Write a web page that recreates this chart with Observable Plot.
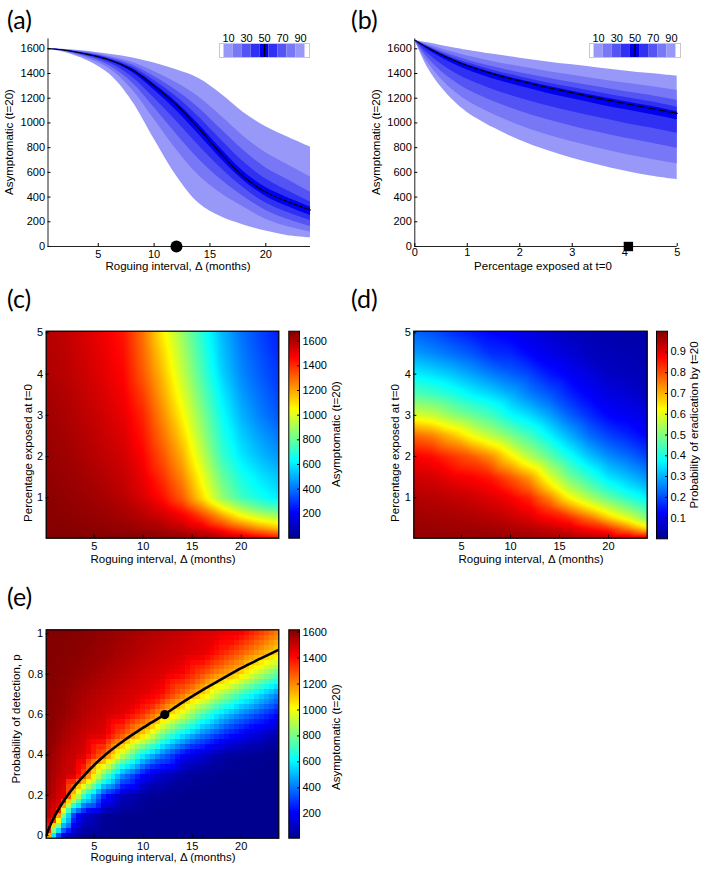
<!DOCTYPE html>
<html><head><meta charset="utf-8">
<script src="https://cdn.jsdelivr.net/npm/d3@7"></script>
<script src="https://cdn.jsdelivr.net/npm/@observablehq/plot@0.6"></script>
<style>
html,body{margin:0;padding:0;background:#fff;}
#fig{position:relative;width:705px;height:869px;overflow:hidden;font-family:"Liberation Sans",Arial,sans-serif;color:#000;background:#fff;}
#fig svg{position:absolute;left:0;top:0;}
.lbl{position:absolute;white-space:nowrap;line-height:1;font-family:"Liberation Sans",Arial,sans-serif;}
.letter{position:absolute;font-family:Lato,"Open Sans",sans-serif;font-size:25px;line-height:1;}
</style></head><body><div id="fig"></div><script>
// ---------- data ----------
// (a) quantiles of asymptomatic hosts vs roguing interval
const aX   = [0.5, 2, 4, 6, 8, 10, 12, 14, 16, 18, 20, 22, 24];
const aP05 = [1598, 1570, 1505, 1395, 1180, 870, 570, 350, 240, 175, 125, 88, 70];
const aP15 = [1599, 1577, 1524, 1438, 1273, 1029, 783, 574, 429, 319, 220, 159, 116];
const aP25 = [1599, 1581, 1535, 1463, 1329, 1124, 909, 707, 541, 405, 292, 219, 162];
const aP35 = [1600, 1584, 1544, 1484, 1374, 1201, 1013, 816, 633, 475, 352, 273, 210];
const aP45 = [1600, 1587, 1551, 1501, 1412, 1266, 1099, 907, 709, 534, 405, 322, 251];
const aP50 = [1600, 1588, 1555, 1510, 1432, 1300, 1145, 955, 750, 565, 440, 360, 295];
const aP55 = [1600, 1589, 1557, 1514, 1440, 1315, 1168, 987, 789, 607, 477, 392, 318];
const aP65 = [1600, 1590, 1561, 1520, 1454, 1343, 1211, 1048, 862, 685, 546, 449, 359];
const aP75 = [1601, 1591, 1565, 1528, 1471, 1376, 1262, 1121, 949, 778, 636, 539, 440];
const aP85 = [1601, 1592, 1571, 1538, 1492, 1417, 1325, 1210, 1056, 893, 758, 659, 561];
const aP95 = [1602, 1595, 1580, 1555, 1528, 1485, 1430, 1360, 1235, 1085, 970, 885, 805];
const aMarkX = 12;
// (b) quantiles vs percentage exposed
const bX   = [0, 0.25, 0.5, 0.75, 1, 1.5, 2, 2.5, 3, 3.5, 4, 4.5, 5];
const bP05 = [1670, 1445, 1290, 1175, 1085, 960, 860, 780, 715, 660, 610, 570, 540];
const bP15 = [1670, 1486, 1356, 1257, 1180, 1069, 980, 907, 847, 795, 747, 707, 670];
const bP25 = [1670, 1525, 1419, 1337, 1270, 1173, 1095, 1029, 974, 924, 878, 838, 795];
const bP35 = [1670, 1561, 1477, 1409, 1353, 1269, 1200, 1141, 1090, 1043, 998, 958, 915];
const bP45 = [1670, 1593, 1529, 1475, 1429, 1356, 1296, 1243, 1195, 1150, 1108, 1068, 1025];
const bP50 = [1670, 1608, 1553, 1505, 1463, 1395, 1339, 1289, 1243, 1199, 1157, 1117, 1077];
const bP55 = [1670, 1610, 1557, 1511, 1471, 1405, 1350, 1301, 1257, 1214, 1173, 1134, 1090];
const bP65 = [1670, 1616, 1567, 1524, 1487, 1425, 1374, 1328, 1286, 1246, 1207, 1171, 1128];
const bP75 = [1670, 1623, 1580, 1543, 1510, 1454, 1407, 1366, 1327, 1290, 1255, 1221, 1182];
const bP85 = [1670, 1633, 1600, 1569, 1542, 1496, 1456, 1419, 1386, 1354, 1323, 1295, 1263];
const bP95 = [1670, 1648, 1627, 1607, 1589, 1555, 1524, 1496, 1470, 1445, 1421, 1399, 1378];
const bMarkX = 4.07;
// legend of the fan charts
const legLo = [5, 15, 25, 35, 45, 55, 65, 75, 85];
const legHi = [15, 25, 35, 45, 55, 65, 75, 85, 95];
const legShade = [0, 1, 2, 3, 4, 3, 2, 1, 0];
const legTicks = [10, 30, 50, 70, 90];
// (c) asymptomatic grid, (d) eradication probability grid: columns = gridX, rows = gridY
const gridX = [0.1, 2, 4, 6, 8, 10, 12, 14, 16, 18, 20, 22, 23.95];
const gridY = [0.02, 0.25, 0.5, 0.75, 1, 1.25, 1.5, 2, 2.5, 3, 3.5, 4, 4.5, 5.04];
const cRows = [
  [1678,1676,1674,1672,1670,1670,1668,1660,1640,1600,1560,1500,1440],
  [1672,1668,1662,1655,1645,1630,1610,1575,1520,1430,1330,1230,1160],
  [1668,1662,1652,1640,1622,1596,1560,1500,1400,1250,1100,1000,940],
  [1664,1656,1644,1628,1605,1565,1505,1410,1250,1060,900,800,740],
  [1660,1650,1635,1615,1585,1530,1450,1320,1110,880,740,660,600],
  [1656,1645,1628,1605,1572,1510,1420,1280,1065,845,700,620,565],
  [1652,1640,1620,1595,1565,1500,1390,1245,1035,805,670,592,535],
  [1645,1630,1605,1575,1545,1470,1335,1180,960,730,600,520,460],
  [1637,1620,1593,1560,1525,1440,1285,1120,900,690,555,470,405],
  [1628,1610,1580,1545,1505,1410,1240,1060,850,650,510,420,350],
  [1620,1600,1568,1530,1485,1370,1195,1005,800,610,475,390,320],
  [1605,1588,1555,1515,1465,1325,1155,955,750,565,440,360,295],
  [1600,1582,1545,1503,1450,1300,1115,920,720,540,420,340,270],
  [1595,1575,1535,1490,1435,1280,1070,880,690,520,400,320,250]
];
const dRows = [
  [0.98,0.98,0.98,0.98,0.98,0.975,0.97,0.965,0.96,0.95,0.93,0.92,0.90],
  [0.975,0.975,0.97,0.97,0.965,0.955,0.945,0.93,0.91,0.87,0.83,0.75,0.66],
  [0.97,0.965,0.96,0.955,0.945,0.93,0.91,0.875,0.84,0.77,0.68,0.60,0.50],
  [0.96,0.955,0.95,0.94,0.925,0.905,0.875,0.815,0.73,0.65,0.57,0.50,0.43],
  [0.95,0.945,0.935,0.925,0.905,0.88,0.84,0.745,0.63,0.545,0.475,0.415,0.365],
  [0.935,0.93,0.915,0.90,0.88,0.835,0.775,0.66,0.55,0.475,0.405,0.355,0.315],
  [0.92,0.915,0.89,0.875,0.85,0.79,0.72,0.595,0.49,0.42,0.35,0.31,0.27],
  [0.88,0.865,0.825,0.79,0.735,0.64,0.55,0.47,0.39,0.32,0.265,0.23,0.19],
  [0.775,0.75,0.69,0.62,0.56,0.50,0.44,0.37,0.30,0.235,0.19,0.16,0.125],
  [0.59,0.57,0.52,0.48,0.44,0.38,0.34,0.285,0.22,0.17,0.125,0.11,0.095],
  [0.46,0.44,0.41,0.37,0.34,0.30,0.25,0.21,0.16,0.12,0.095,0.08,0.055],
  [0.365,0.345,0.32,0.285,0.25,0.22,0.19,0.145,0.115,0.09,0.06,0.05,0.045],
  [0.28,0.26,0.235,0.21,0.17,0.16,0.125,0.10,0.08,0.055,0.045,0.04,0.035],
  [0.22,0.20,0.17,0.145,0.125,0.11,0.09,0.07,0.05,0.04,0.035,0.03,0.03]
];
// (e) asymptomatic vs roguing interval and detection probability
const eX = [0.1, 1, 2, 3, 4, 6, 8, 10, 12, 14, 16, 18, 20, 22, 23.84];
const eY = [-0.013, 0.1, 0.2, 0.3, 0.4, 0.5, 0.6, 0.7, 0.8, 0.9, 1.02];
const eRows = [
  [1300,300,30,10,10,10,10,10,10,10,10,10,10,10,10],
  [1540,1450,730,270,120,30,15,12,10,10,10,10,10,10,10],
  [1570,1520,1450,1050,680,250,90,40,20,12,10,10,10,10,10],
  [1590,1540,1500,1480,1300,780,420,210,110,50,25,15,12,10,10],
  [1600,1560,1520,1500,1475,1260,915,605,390,210,130,60,30,20,15],
  [1605,1590,1550,1525,1500,1465,1290,1080,800,590,410,290,195,130,60],
  [1608,1600,1580,1555,1530,1495,1460,1340,1150,960,735,560,420,315,210],
  [1610,1605,1590,1570,1550,1520,1490,1465,1400,1245,1085,890,715,560,420],
  [1612,1610,1600,1590,1580,1550,1525,1495,1470,1420,1305,1190,1080,900,760],
  [1615,1613,1608,1602,1595,1575,1550,1525,1500,1478,1455,1360,1260,1150,1050],
  [1615,1615,1612,1608,1605,1590,1570,1550,1530,1505,1480,1460,1440,1340,1230]
];
const eCurveX = [0.1, 0.5, 1, 2, 3, 4, 5, 6, 8, 10, 12, 14, 16, 18, 20, 22, 24];
const eCurveP = [0, 0.05, 0.10, 0.18, 0.245, 0.30, 0.35, 0.395, 0.47, 0.535, 0.595, 0.66, 0.72, 0.775, 0.83, 0.878, 0.925];
const eDotX = 12.2, eDotP = 0.6;
// ticks
const aXTicks = [5, 10, 15, 20];
const yTicks16 = [0, 200, 400, 600, 800, 1000, 1200, 1400, 1600];
const bXTicks = [0, 1, 2, 3, 4, 5];
const heatXTicks = [5, 10, 15, 20];
const heatYTicks = [1, 2, 3, 4, 5];
const eYTicks = [0, 0.2, 0.4, 0.6, 0.8, 1];
const asymBarTicks = [200, 400, 600, 800, 1000, 1200, 1400, 1600];
const probBarTicks = [0.1, 0.2, 0.3, 0.4, 0.5, 0.6, 0.7, 0.8, 0.9];
const cDomain = [2, 1681], dDomain = [0, 1], eDomain = [12, 1618];

// ---------- styling ----------
const bandColors = ["#9898f8", "#7878f6", "#5454f4", "#3030f2", "#0000ee"];
const jetStops = [0, 0.125, 0.375, 0.625, 0.875, 1];
const jetColors = ["#00008f", "#0000ff", "#00ffff", "#ffff00", "#ff0000", "#800000"];
function jet([lo, hi]) { return {type: "linear", domain: jetStops.map(t => lo + t * (hi - lo)), range: jetColors, interpolate: "rgb", clamp: true}; }
const W = 705, H = 869;
const fig = document.getElementById("fig");
const base = {width: W, height: H, style: {background: "transparent", fontFamily: "'Liberation Sans', Arial, sans-serif", fontSize: "11px", color: "#000", overflow: "visible"}};
function box(l, r, t, b) { return {marginLeft: l, marginRight: W - r, marginTop: t, marginBottom: H - b}; }
function place(svg) { svg.style.position = "absolute"; svg.style.left = "0px"; svg.style.top = "0px"; fig.appendChild(svg); }
function text(str, x, y, rot, size) {
  const d = document.createElement("div"); d.className = "lbl"; d.textContent = str;
  d.style.left = x + "px"; d.style.top = y + "px"; d.style.fontSize = (size || 11.5) + "px";
  d.style.transform = "translate(-50%,-50%)" + (rot ? " rotate(-90deg)" : "");
  fig.appendChild(d);
}
function letter(str, x, y) { const d = document.createElement("div"); d.className = "letter"; d.textContent = str; d.style.left = x + "px"; d.style.top = y + "px"; fig.appendChild(d); }
const fmt = d3.format("~g");

function rowsOf(X, P) { return X.map((x, i) => ({x, p05: P[0][i], p15: P[1][i], p25: P[2][i], p35: P[3][i], p45: P[4][i], p50: P[5][i], p55: P[6][i], p65: P[7][i], p75: P[8][i], p85: P[9][i], p95: P[10][i]})); }
function fan(rows) {
  return [["p05","p95"],["p15","p85"],["p25","p75"],["p35","p65"],["p45","p55"]]
    .map(([lo, hi], k) => Plot.areaY(rows, {x: "x", y1: lo, y2: hi, fill: bandColors[k], curve: "catmull-rom"}))
    .concat([Plot.lineY(rows, {x: "x", y: "p50", stroke: "#000", strokeWidth: 1.1, curve: "catmull-rom"})]);
}
const aRows = rowsOf(aX, [aP05, aP15, aP25, aP35, aP45, aP50, aP55, aP65, aP75, aP85, aP95]);
const bRows = rowsOf(bX, [bP05, bP15, bP25, bP35, bP45, bP50, bP55, bP65, bP75, bP85, bP95]);
const legRows = legLo.map((lo, i) => ({lo, hi: legHi[i], shade: legShade[i]}));

// (a)
place(Plot.plot({...base, ...box(47.5, 310, 38.4, 246), x: {domain: [0.5, 24]}, y: {domain: [0, 1680]},
  marks: [...fan(aRows),
    Plot.ruleY([0], {stroke: "#222"}), Plot.ruleX([0.5], {stroke: "#222"}),
    Plot.axisX({ticks: aXTicks, tickSize: -3, tickPadding: 7, tickFormat: fmt, label: null}),
    Plot.axisY({ticks: yTicks16, tickSize: -3, tickPadding: 6, tickFormat: fmt, label: null}),
    Plot.dot([{x: aMarkX, y: 0}], {x: "x", y: "y", r: 6, fill: "#000"})]}));
// (b)
place(Plot.plot({...base, ...box(414.3, 676.7, 38.4, 246), x: {domain: [0, 5]}, y: {domain: [0, 1680]},
  marks: [...fan(bRows),
    Plot.ruleY([0], {stroke: "#222"}), Plot.ruleX([0], {stroke: "#222"}),
    Plot.axisX({ticks: bXTicks, tickSize: -3, tickPadding: 5, tickFormat: fmt, label: null}),
    Plot.axisY({ticks: yTicks16, tickSize: -3, tickPadding: 6, tickFormat: fmt, label: null}),
    Plot.dot([{x: bMarkX, y: 0}], {x: "x", y: "y", r: 5.3, symbol: "square", fill: "#000"})]}));
// legends
for (const [l, r] of [[219, 309], [589, 680]]) {
  place(Plot.plot({...base, ...box(l, r, 43, 57), x: {domain: [0, 100]}, y: {domain: [0, 1], axis: null},
    marks: [Plot.rect(legRows, {x1: "lo", x2: "hi", y1: 0, y2: 1, fill: d => bandColors[d.shade]}),
      Plot.ruleX([50], {stroke: "#000", strokeWidth: 1.2}),
      Plot.frame({stroke: "#c8c8c8"}),
      Plot.axisX({anchor: "top", ticks: legTicks, tickSize: 0, tickPadding: 2, label: null})]}));
}
// heatmaps
function gridPts(X, Y, R) { return Y.flatMap((y, j) => X.map((x, i) => ({x, y, v: R[j][i]}))); }
function heat(l, r, t, b, xd, yd, pts, cd, yTicks, ps, extra) {
  place(Plot.plot({...base, ...box(l, r, t, b), x: {domain: xd}, y: {domain: yd}, color: jet(cd),
    marks: [Plot.raster(pts, {x: "x", y: "y", fill: "v", interpolate: "barycentric", x1: xd[0], x2: xd[1], y1: yd[0], y2: yd[1], pixelSize: ps, imageRendering: ps > 2 ? "pixelated" : "auto"}),
      ...(extra || []),
      Plot.frame({stroke: "#000", strokeWidth: 1.3}),
      Plot.axisX({ticks: heatXTicks, tickSize: -3, tickPadding: 7, tickFormat: fmt, label: null}),
      Plot.axisY({ticks: yTicks, tickSize: -3, tickPadding: 6, tickFormat: fmt, label: null})]}));
}
function colorbar(l, r, t, b, cd, ticks) {
  place(Plot.plot({...base, ...box(l, r, t, b), x: {domain: [0, 1], axis: null}, y: {domain: cd}, color: jet(cd),
    marks: [Plot.raster({x1: 0, x2: 1, y1: cd[0], y2: cd[1], fill: (x, y) => y, pixelSize: 1}),
      Plot.frame({stroke: "#000"}),
      Plot.axisY({anchor: "right", ticks, tickSize: -3, tickPadding: 6, tickFormat: fmt, label: null})]}));
}
heat(45.7, 278.3, 330.7, 537.7, [0.1, 23.84], [0.02, 5.04], gridPts(gridX, gridY, cRows), cDomain, heatYTicks, 2);
colorbar(288.3, 299, 330.7, 537.7, cDomain, asymBarTicks);
heat(413.3, 646.7, 330.7, 537.7, [0.13, 23.95], [0.02, 5.04], gridPts(gridX, gridY, dRows), dDomain, heatYTicks, 2);
colorbar(656, 667, 330.7, 538.3, dDomain, probBarTicks);
const eCurve = eCurveX.map((x, i) => ({x, y: eCurveP[i]}));
heat(45.7, 278.3, 629.3, 837.7, [0.1, 23.84], [-0.013, 1.02], gridPts(eX, eY, eRows), eDomain, eYTicks, 5,
  [Plot.line(eCurve, {x: "x", y: "y", stroke: "#000", strokeWidth: 2.6, curve: "catmull-rom", clip: true}),
   Plot.dot([{x: eDotX, y: eDotP}], {x: "x", y: "y", r: 4.6, fill: "#000"})]);
colorbar(288.3, 299, 629.3, 837.7, eDomain, asymBarTicks);

// text
const rog = "Roguing interval, \u0394 (months)";
const asym = "Asymptomatic (t=20)";
const pexp = "Percentage exposed at t=0";
text(rog, 178, 267); text(asym, 10, 142, true);
text(pexp, 543, 267); text(asym, 377, 142, true);
text(rog, 163, 560); text(pexp, 29, 453, true); text(asym, 337, 434, true);
text(rog, 531, 560); text(pexp, 396, 453, true); text("Probability of eradication by t=20", 695, 425, true);
text(rog, 163, 858); text("Probability of detection, p", 17, 719, true); text(asym, 337, 737, true);
letter("(a)", 7, 7); letter("(b)", 351, 7); letter("(c)", 7, 286); letter("(d)", 351, 286); letter("(e)", 7, 584);
</script></body></html>
